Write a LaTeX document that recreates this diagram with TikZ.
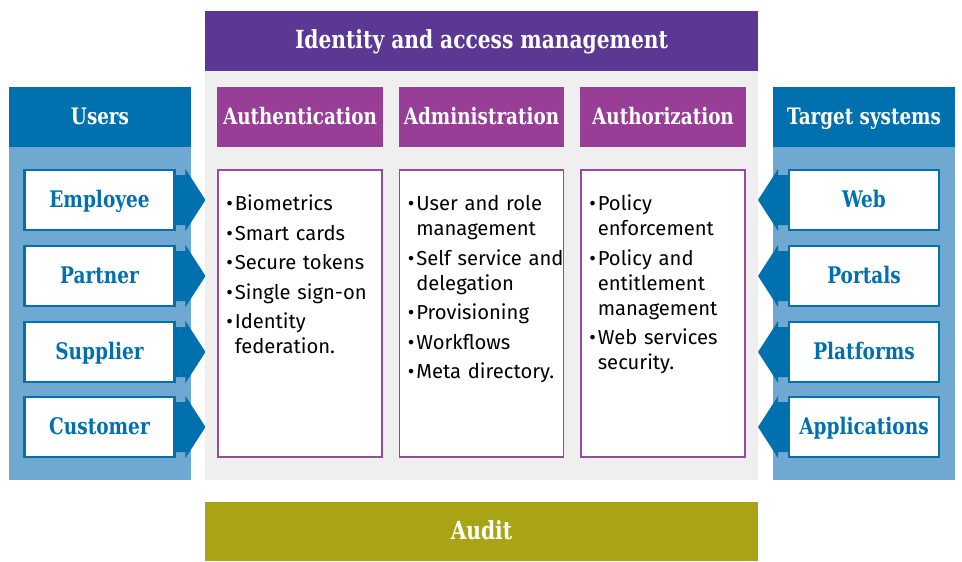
\documentclass[tikz,border=0pt]{standalone}
\usepackage{fontspec}
\setmainfont{Fira Sans}
\newfontfamily\slabfont{DejaVu Serif Condensed}[FakeStretch=0.9]
\usetikzlibrary{positioning,calc}

\definecolor{iamPurple}{HTML}{5B3893}
\definecolor{subPurple}{HTML}{983E96}
\definecolor{boxPurple}{HTML}{9A4A9C}
\definecolor{darkBlue}{HTML}{0071AE}
\definecolor{lightBlue}{HTML}{6FA8D0}
\definecolor{panelGrey}{HTML}{EFEFEF}
\definecolor{auditOlive}{HTML}{A8A415}

\newcommand{\slabtitle}{\slabfont\bfseries\fontsize{14.2}{16}\selectfont}
\newcommand{\slabhead}{\slabfont\bfseries\fontsize{12.9}{15}\selectfont}
\newcommand{\slablabel}{\slabfont\bfseries\fontsize{13}{15}\selectfont}
\newcommand{\listfont}{\fontsize{11.5}{14.2}\selectfont}
% bullet line and continuation line
\newcommand{\iamitem}[1]{\par\vspace{2.6pt}\noindent\makebox[4.8pt][l]{\textbullet}#1}
\newcommand{\iamcont}[1]{\par\noindent\hspace*{4.8pt}#1}

\begin{document}
\begin{tikzpicture}[x=0.02cm, y=-0.02cm,
    panel/.style={inner sep=0pt, outer sep=0pt},
    slabtext/.style={text height=0.9em, text depth=0pt},
    bluehead/.style={panel, slabtext, fill=darkBlue, text=white, font=\slabhead, minimum width=3.64cm, minimum height=1.2cm},
    bluebody/.style={panel, fill=lightBlue, minimum width=3.64cm, minimum height=6.66cm},
    itembox/.style={panel, slabtext, draw=darkBlue, line width=1.6pt, fill=white, text=darkBlue, font=\slablabel, minimum width=3.0cm, minimum height=1.2cm},
    pointer/.style={fill=darkBlue},
    subhead/.style={panel, slabtext, fill=subPurple, text=white, font=\slabhead, minimum width=3.32cm, minimum height=1.2cm},
    listbox/.style={panel, draw=boxPurple, line width=1.1pt, fill=white, minimum width=3.28cm, minimum height=5.74cm},
    listtext/.style={inner sep=0pt, anchor=north west, text width=3.2cm, font=\listfont},
  ]
  \useasboundingbox (0,0) rectangle (962,561);

  % Users panel
  \node[bluehead] (usersHead) at (100,117) {Users};
  \node[bluebody, below=0pt of usersHead] (usersBody) {};
  \foreach \name/\lbl/\y in {employee/Employee/200, partner/Partner/276, supplier/Supplier/352, customer/Customer/427} {
    \node[itembox] (\name) at (99.5,\y) {\lbl};
    \fill[pointer] ($(\name.east)+(0,-25)$) -- ++(11,0) -- ++(0,-6) -- ++(20,31) -- ++(-20,31) -- ++(0,-6) -- ++(-11,0) -- cycle;
  }

  % Target systems panel
  \node[bluehead] (targetHead) at (864,117) {Target systems};
  \node[bluebody, below=0pt of targetHead] (targetBody) {};
  \foreach \name/\lbl/\y in {web/Web/200, portals/Portals/276, platforms/Platforms/352, applications/Applications/427} {
    \node[itembox] (\name) at (864,\y) {\lbl};
    \fill[pointer] ($(\name.west)+(0,-25)$) -- ++(-11,0) -- ++(0,-6) -- ++(-20,31) -- ++(20,31) -- ++(0,-6) -- ++(11,0) -- cycle;
  }

  % Identity and access management
  \node[panel, slabtext, fill=iamPurple, text=white, font=\slabtitle, minimum width=11.06cm, minimum height=1.2cm] (iam) at (481.5,41) {Identity and access management};
  \node[panel, fill=panelGrey, minimum width=11.06cm, minimum height=8.18cm, below=0pt of iam] (iamBody) {};

  \node[subhead] (authn) at (300,117) {Authentication};
  \node[subhead] (admin) at (481.5,117) {Administration};
  \node[subhead] (authz) at (663,117) {Authorization};

  \node[listbox] (authnBox) at (300,313.5) {};
  \node[listbox] (adminBox) at (481.5,313.5) {};
  \node[listbox] (authzBox) at (663,313.5) {};

  \node[listtext] (authnList) at ($(authnBox.north west)+(8,11)$) {%
    \iamitem{Biometrics}
    \iamitem{Smart cards}
    \iamitem{Secure tokens}
    \iamitem{Single sign-on}
    \iamitem{Identity}\iamcont{federation.}};
  \node[listtext] (adminList) at ($(adminBox.north west)+(8,11)$) {%
    \iamitem{User and role}\iamcont{management}
    \iamitem{Self service and}\iamcont{delegation}
    \iamitem{Provisioning}
    \iamitem{Workflows}
    \iamitem{Meta directory.}};
  \node[listtext] (authzList) at ($(authzBox.north west)+(8,11)$) {%
    \iamitem{Policy}\iamcont{enforcement}
    \iamitem{Policy and}\iamcont{entitlement}\iamcont{management}
    \iamitem{Web services}\iamcont{security.}};

  % Audit
  \node[panel, slabtext, fill=auditOlive, text=white, font=\slabtitle, minimum width=11.06cm, minimum height=1.18cm] (audit) at (481.5,531.5) {Audit};
\end{tikzpicture}
\end{document}
